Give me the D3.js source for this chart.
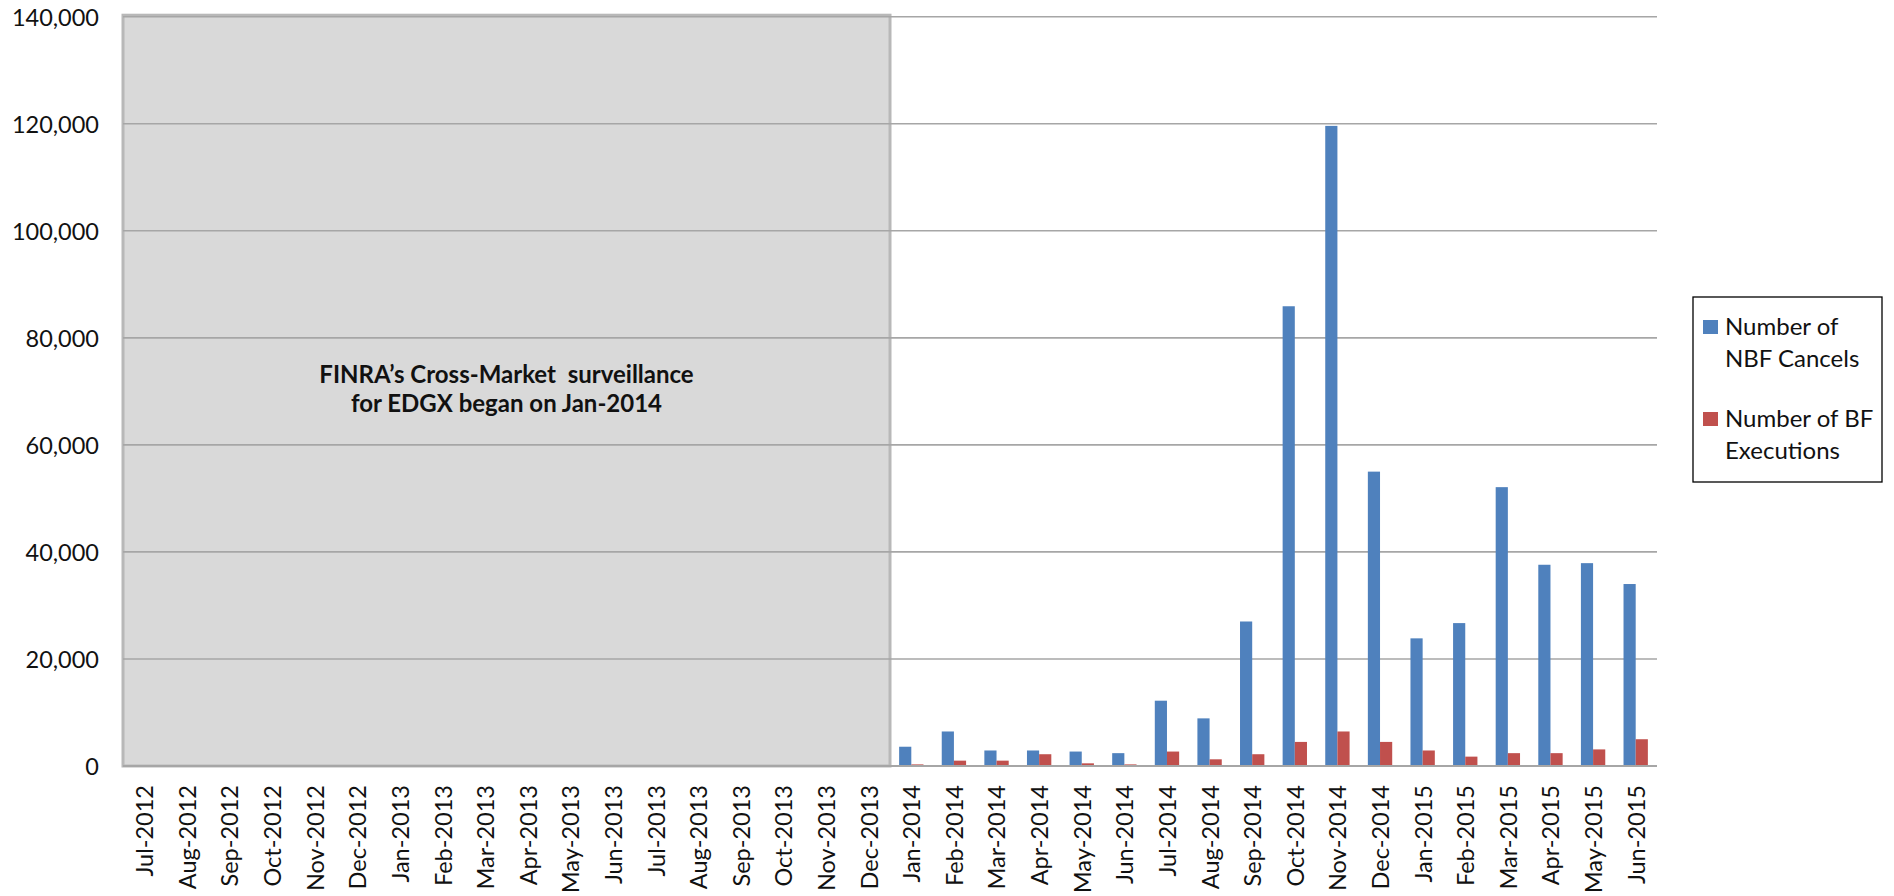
<!DOCTYPE html>
<html>
<head>
<meta charset="utf-8">
<script src="https://cdn.jsdelivr.net/npm/d3@7"></script>
<style>
  body { margin: 0; background: #fff; }
  text { font-family: Lato, "Open Sans", sans-serif; fill: #111; }
</style>
</head>
<body>
<svg id="chart" width="1894" height="896"></svg>
<script>
// months on the x axis
const months = [
  "Jul-2012", "Aug-2012", "Sep-2012", "Oct-2012", "Nov-2012", "Dec-2012",
  "Jan-2013", "Feb-2013", "Mar-2013", "Apr-2013", "May-2013", "Jun-2013",
  "Jul-2013", "Aug-2013", "Sep-2013", "Oct-2013", "Nov-2013", "Dec-2013",
  "Jan-2014", "Feb-2014", "Mar-2014", "Apr-2014", "May-2014", "Jun-2014",
  "Jul-2014", "Aug-2014", "Sep-2014", "Oct-2014", "Nov-2014", "Dec-2014",
  "Jan-2015", "Feb-2015", "Mar-2015", "Apr-2015", "May-2015", "Jun-2015"
];

// no surveillance data before Jan-2014
const nbfCancels = [
  null, null, null, null, null, null, null, null, null,
  null, null, null, null, null, null, null, null, null,
  3600, 6450, 2900, 2900, 2700, 2400, 12200, 8900, 27000,
  85900, 119600, 55000, 23850, 26700, 52100, 37600, 37900, 34000
];
const bfExecutions = [
  null, null, null, null, null, null, null, null, null,
  null, null, null, null, null, null, null, null, null,
  300, 1000, 1000, 2200, 500, 300, 2700, 1250, 2200,
  4500, 6450, 4500, 2900, 1750, 2400, 2400, 3100, 5000
];

const seriesNames = ["Number of NBF Cancels", "Number of BF Executions"];
const seriesColors = ["#4f81bd", "#c0504d"];
const legendLines = [["Number of", "NBF Cancels"], ["Number of BF", "Executions"]];
const yTicks = [0, 20000, 40000, 60000, 80000, 100000, 120000, 140000];
const noteStart = "Jul-2012";
const noteEnd = "Dec-2013";
const noteLines = ["FINRA\u2019s Cross-Market  surveillance", "for EDGX began on Jan-2014"];

const svg = d3.select("#chart");
const plotLeft = 123, plotRight = 1657, plotTop = 16.7, plotBottom = 766;

const x = d3.scaleBand().domain(months).range([plotLeft, plotRight]).padding(0);
const x1 = d3.scaleBand().domain(seriesNames).range([0, x.bandwidth()])
  .paddingInner(0).paddingOuter(0.75);
const y = d3.scaleLinear().domain([0, 140000]).range([plotBottom, plotTop]);

// shaded period before surveillance
svg.append("rect")
  .attr("x", x(noteStart))
  .attr("y", y(140000) - 1.5)
  .attr("width", x(noteEnd) + x.bandwidth() - x(noteStart))
  .attr("height", y(0) - y(140000) + 1.5)
  .attr("fill", "#d9d9d9")
  .attr("stroke", "#b8b8b8")
  .attr("stroke-width", 3);

// gridlines
svg.append("g")
  .selectAll("line")
  .data(yTicks)
  .enter().append("line")
  .attr("x1", plotLeft)
  .attr("x2", plotRight)
  .attr("y1", d => y(d))
  .attr("y2", d => y(d))
  .attr("stroke", "#a6a6a6")
  .attr("stroke-width", 1.6);

// y axis labels
const yAxis = d3.axisLeft(y).tickValues(yTicks).tickSize(0).tickPadding(24)
  .tickFormat(d3.format(","));
svg.append("g")
  .attr("transform", `translate(${plotLeft},0)`)
  .call(yAxis)
  .call(g => g.select(".domain").remove())
  .selectAll("text")
  .style("font-size", "23.5px")
  .attr("font-family", null)
  .attr("dy", "0.36em");

// x axis labels
const xAxis = d3.axisBottom(x).tickSize(0).tickPadding(0);
svg.append("g")
  .attr("transform", `translate(0,${plotBottom})`)
  .call(xAxis)
  .call(g => g.select(".domain").remove())
  .selectAll("text")
  .style("font-size", "23.5px")
  .attr("font-family", null)
  .attr("text-anchor", "end")
  .attr("transform", "rotate(-90)")
  .attr("x", -19)
  .attr("y", 0)
  .attr("dy", "0.38em");

// bars
const rows = months.map((m, i) => ({ month: m, values: [nbfCancels[i], bfExecutions[i]] }));
const groups = svg.append("g")
  .selectAll("g")
  .data(rows)
  .enter().append("g")
  .attr("transform", d => `translate(${x(d.month)},0)`);

groups.selectAll("rect")
  .data(d => d.values.map((v, k) => ({ key: seriesNames[k], value: v, color: seriesColors[k] }))
    .filter(e => e.value != null))
  .enter().append("rect")
  .attr("x", e => x1(e.key))
  .attr("width", x1.bandwidth())
  .attr("y", e => y(e.value))
  .attr("height", e => y(0) - y(e.value))
  .attr("fill", e => e.color);

// baseline
svg.append("line")
  .attr("x1", plotLeft).attr("x2", plotRight)
  .attr("y1", y(0)).attr("y2", y(0))
  .attr("stroke", "#a6a6a6")
  .attr("stroke-width", 2);

// annotation
const noteX = (x(noteStart) + x(noteEnd) + x.bandwidth()) / 2;
svg.append("text")
  .attr("x", noteX)
  .attr("y", 383)
  .attr("text-anchor", "middle")
  .style("font-size", "24px")
  .style("font-weight", "bold")
  .selectAll("tspan")
  .data(noteLines)
  .enter().append("tspan")
  .attr("x", noteX)
  .attr("dy", (d, i) => i === 0 ? 0 : 29)
  .style("white-space", "pre")
  .text(d => d);

// legend
const legend = svg.append("g").attr("transform", "translate(1693,297)");
legend.append("rect")
  .attr("width", 189)
  .attr("height", 185)
  .attr("fill", "#fff")
  .attr("stroke", "#000")
  .attr("stroke-width", 1.3);

const items = legend.selectAll(".item")
  .data(seriesNames)
  .enter().append("g")
  .attr("class", "item")
  .attr("transform", (d, i) => `translate(0,${i * 92})`);

items.append("rect")
  .attr("x", 10)
  .attr("y", 23)
  .attr("width", 15)
  .attr("height", 14)
  .attr("fill", (d, i) => seriesColors[i]);

items.append("text")
  .style("font-size", "24px")
  .selectAll("tspan")
  .data((d, i) => legendLines[i])
  .enter().append("tspan")
  .attr("x", 32)
  .attr("y", (d, j) => 38 + j * 32)
  .text(d => d);
</script>
</body>
</html>
